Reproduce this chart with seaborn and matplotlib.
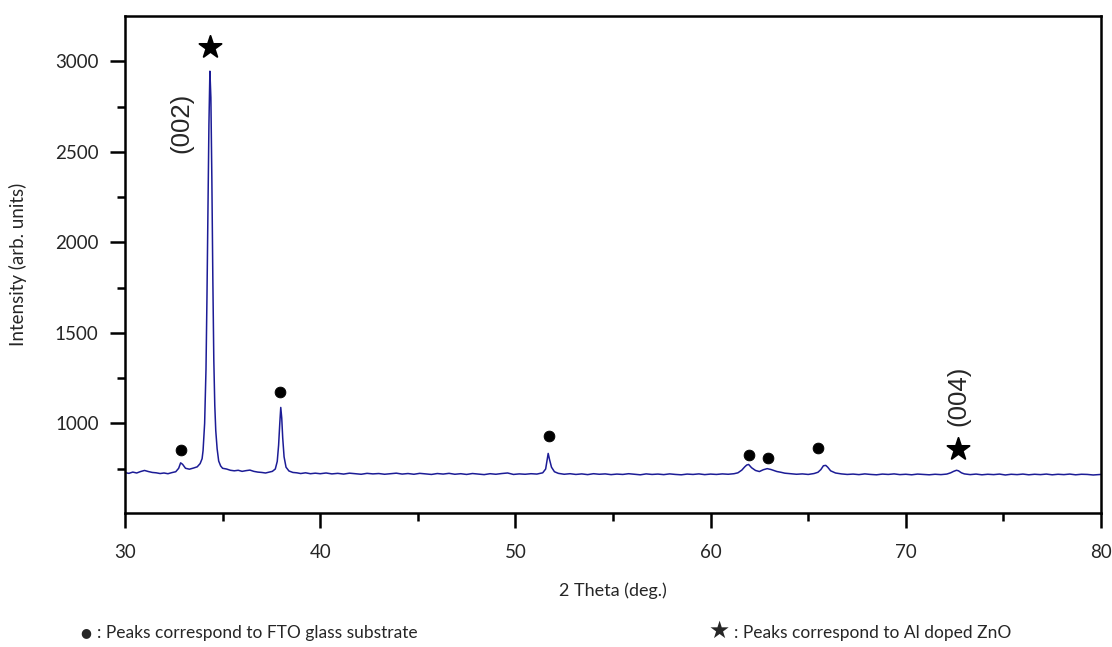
import numpy as np
import pandas as pd
import matplotlib
matplotlib.use("Agg")
import matplotlib.pyplot as plt
import seaborn as sns

# ---- digitised XRD pattern (2 theta, intensity) ---------------------------
two_theta = [
    30.0, 30.2, 30.4, 30.6, 30.8, 31.0, 31.2, 31.4, 31.6, 31.8, 32.0, 32.2,
    32.4, 32.6, 32.75, 32.85, 32.95, 33.1, 33.3, 33.5, 33.7, 33.85, 33.95,
    34.0, 34.08, 34.15, 34.2, 34.25, 34.3, 34.35, 34.4, 34.45, 34.5, 34.55,
    34.6, 34.65, 34.72, 34.8, 34.9, 35.0, 35.2, 35.4, 35.6, 35.8, 36.0, 36.2,
    36.4, 36.6, 36.8, 37.0, 37.2, 37.4, 37.55, 37.7, 37.8, 37.87, 37.93,
    37.98, 38.03, 38.08, 38.15, 38.25, 38.4, 38.6, 38.8, 39.0, 39.25, 39.5,
    39.75, 40.0, 40.3, 40.6, 40.9, 41.2, 41.5, 41.8, 42.1, 42.4, 42.7, 43.0,
    43.3, 43.6, 43.9, 44.2, 44.5, 44.8, 45.1, 45.4, 45.7, 46.0, 46.3, 46.6,
    46.9, 47.2, 47.5, 47.8, 48.1, 48.4, 48.7, 49.0, 49.3, 49.6, 49.9, 50.2,
    50.5, 50.8, 51.1, 51.4, 51.55, 51.62, 51.68, 51.75, 51.85, 52.0, 52.2,
    52.5, 52.8, 53.1, 53.4, 53.7, 54.0, 54.3, 54.6, 54.9, 55.2, 55.5, 55.8,
    56.1, 56.4, 56.7, 57.0, 57.3, 57.6, 57.9, 58.2, 58.5, 58.8, 59.1, 59.4,
    59.7, 60.0, 60.3, 60.6, 60.9, 61.2, 61.4, 61.6, 61.75, 61.85, 61.95,
    62.1, 62.3, 62.5, 62.7, 62.9, 63.1, 63.4, 63.6, 63.8, 64.1, 64.4, 64.7,
    65.0, 65.3, 65.5, 65.65, 65.78, 65.9, 66.0, 66.15, 66.4, 66.7, 67.0,
    67.3, 67.6, 67.9, 68.2, 68.5, 68.8, 69.1, 69.4, 69.7, 70.0, 70.3, 70.6,
    70.9, 71.2, 71.5, 71.8, 72.1, 72.3, 72.45, 72.6, 72.7, 72.85, 73.0,
    73.3, 73.6, 73.9, 74.2, 74.5, 74.8, 75.1, 75.4, 75.7, 76.0, 76.3, 76.6,
    76.9, 77.2, 77.5, 77.8, 78.1, 78.4, 78.7, 79.0, 79.3, 79.6, 80.0,
]
intensity = [
    728, 724, 731, 726, 734, 740, 734, 729, 727, 723, 726, 722,
    728, 733, 752, 782, 774, 752, 747, 753, 760, 778, 805,
    850, 1000, 1300, 1700, 2200, 2650, 2945, 2800, 2350, 1800, 1350,
    1100, 960, 860, 792, 765, 752, 748, 741, 738, 741, 735, 739,
    742, 735, 731, 729, 726, 731, 735, 748, 790, 880, 1000,
    1088, 1030, 920, 815, 758, 737, 729, 727, 723, 727, 722,
    725, 722, 726, 721, 724, 720, 725, 722, 719, 724, 721, 723,
    719, 722, 725, 720, 723, 719, 724, 721, 718, 723, 720, 724,
    719, 722, 718, 723, 720, 717, 722, 719, 723, 726, 718, 721,
    719, 722, 720, 727, 748, 795, 834, 800, 758, 733, 724,
    719, 722, 718, 721, 717, 722, 719, 721, 717, 720, 718, 722,
    719, 716, 721, 718, 720, 717, 721, 718, 716, 720, 718, 721,
    717, 720, 718, 721, 719, 722, 727, 742, 760, 770, 773,
    755, 740, 734, 744, 750, 745, 734, 730, 725, 722, 719, 721,
    718, 723, 730, 745, 766, 768, 758, 738, 726, 721, 718,
    720, 717, 721, 718, 716, 720, 718, 721, 717, 719, 716, 720,
    718, 716, 719, 717, 720, 727, 735, 741, 738, 727, 721,
    717, 720, 716, 719, 717, 720, 715, 719, 717, 720, 716, 719,
    717, 720, 716, 719, 717, 720, 716, 719, 718, 715, 718,
]

# peak markers
fto_x = [32.85, 37.95, 51.7, 61.95, 62.95, 65.5]
fto_y = [851, 1171, 928, 824, 807, 862]
zno_x = [34.35, 72.7]
zno_y = [3077, 857]

# plane labels
plane_text = ["(002)", "(004)"]
plane_x = [32.9, 72.7]
plane_y = [2660, 1155]

x_ticks = [30, 40, 50, 60, 70, 80]
y_ticks = [1000, 1500, 2000, 2500, 3000]

sns.set_theme(style="ticks")
plt.rcParams["font.family"] = ["Lato", "DejaVu Sans"]

df = pd.DataFrame({"two_theta": two_theta, "intensity": intensity})

fig = plt.figure(figsize=(11.12, 6.47), dpi=100)
ax = fig.add_axes([0.1124, 0.2071, 0.8777, 0.7682])

sns.lineplot(data=df, x="two_theta", y="intensity", estimator=None,
             sort=False, color="#1c1c96", linewidth=1.1, ax=ax)
sns.scatterplot(x=fto_x, y=fto_y, marker="o", s=60, color="black",
                edgecolor="black", ax=ax)
sns.scatterplot(x=zno_x, y=zno_y, marker="*", s=280, color="black",
                edgecolor="black", ax=ax)

for txt, px, py in zip(plane_text, plane_x, plane_y):
    ax.text(px, py, txt, rotation=90, ha="center", va="center",
            fontsize=18.5, family=["Liberation Sans", "DejaVu Sans"])

ax.set_xlim(30, 80)
ax.set_ylim(505, 3250)
ax.set_xticks(x_ticks)
ax.set_xticks([35, 45, 55, 65, 75], minor=True)
ax.set_yticks(y_ticks)
ax.set_yticks([750, 1250, 1750, 2250, 2750], minor=True)
ax.tick_params(axis="x", which="major", pad=11)
ax.tick_params(axis="y", which="major", pad=8)
ax.tick_params(which="major", direction="out", length=11, width=1.8,
               labelsize=13.5, color="black")
ax.tick_params(which="minor", direction="out", length=6, width=1.8,
               color="black")
for sp in ax.spines.values():
    sp.set_linewidth(1.8)
    sp.set_color("black")

ax.set_xlabel("2 Theta (deg.)", fontsize=13, labelpad=16)
ax.set_ylabel("Intensity (arb. units)", fontsize=13.5, labelpad=20)

fig.text(0.0725, 0.012, "\u25cf", fontsize=9, ha="left", va="bottom",
         family=["DejaVu Sans"])
fig.text(0.0875, 0.010, ": Peaks correspond to FTO glass substrate",
         fontsize=12.5, ha="left", va="bottom")
fig.text(0.637, 0.006, "\u2605", fontsize=17, ha="left", va="bottom",
         family=["DejaVu Sans"])
fig.text(0.660, 0.010, ": Peaks correspond to Al doped ZnO",
         fontsize=12.5, ha="left", va="bottom")

fig.savefig("out.png", dpi=100)
